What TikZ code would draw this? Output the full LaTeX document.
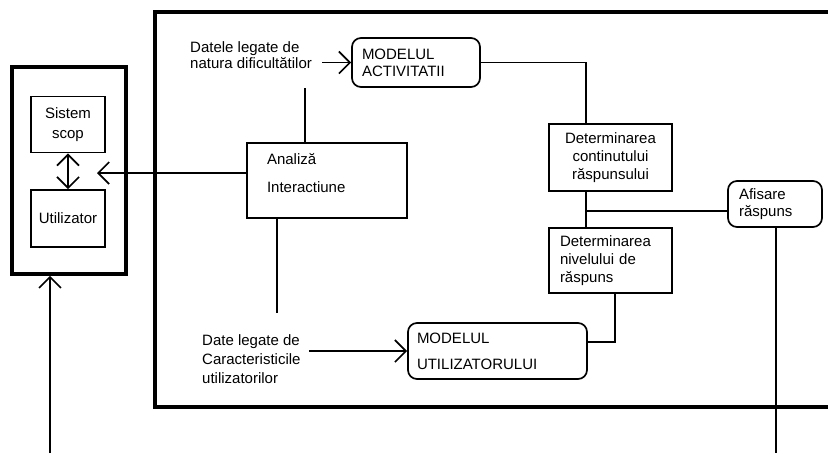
\documentclass[tikz,border=0pt]{standalone}
\usepackage{fontspec}
\setmainfont{Liberation Sans}
\usetikzlibrary{arrows.meta}

\begin{document}
\begin{tikzpicture}[x=1pt, y=-1pt, >={Straight Barb[length=11pt,width=22pt]},
  font=\fontsize{15}{16}\selectfont,
  link/.style={line width=1.7pt},
  frame/.style={draw, line width=3.5pt},
  box/.style={draw, line width=1.7pt, inner sep=2pt},
  rbox/.style={box, rounded corners=9pt},
  txt/.style={inner sep=0pt, align=left, anchor=west}]
  \useasboundingbox (0,0) rectangle (828,453);
  % outer frames
  \draw[frame] (840,12) -| (155,407) -- (840,407);
  \node[frame, minimum width=114pt, minimum height=207pt] (user) at (69,170.5) {};
  \node[box, minimum width=74pt, minimum height=56pt, align=center] (sistem) at (68,124.5) {Sistem\\[4pt]scop};
  \node[box, minimum width=74pt, minimum height=57pt] (utilizator) at (68,218.5) {Utilizator\\[6pt]\mbox{}};
  % boxes
  \node[box, minimum width=160pt, minimum height=75pt, text width=120pt, align=left] (analiza) at (327,180.5) {Analiză\\[12pt]Interactiune\\\mbox{}};
  \node[rbox, minimum width=128pt, minimum height=49pt, text width=108pt, align=left] (modact) at (416,62.5) {MODELUL\\[1pt]ACTIVITATII};
  \node[box, minimum width=123pt, minimum height=67pt, align=center] (detcont) at (610.5,157.5) {Determinarea\\[2pt]continutului\\[2pt]răspunsului};
  \node[rbox, minimum width=94pt, minimum height=46pt, text width=72pt, align=left] (afis) at (775,204) {Afisare\\[1pt]răspuns};
  \node[box, minimum width=123pt, minimum height=65pt, text width=101pt, align=left] (detniv) at (610.5,260.5) {Determinarea\\[2pt]nivelului de\\[2pt]răspuns};
  \node[rbox, minimum width=179pt, minimum height=56pt, text width=161pt, align=left] (modutil) at (497.5,351) {MODELUL\\[10pt]UTILIZATORULUI};
  % data labels
  \node[txt] (datanat) at (190,55) {Datele legate de\\natura dificultătilor};
  \node[txt] (datcar) at (202,359) {Date legate de\\[3pt]Caracteristicile\\[3pt]utilizatorilor};
  % free ends
  \coordinate (nat) at (305,88);
  \coordinate (car) at (277,313);
  \coordinate (tip) at (97,173);
  \coordinate (entry) at (50,453);
  \coordinate (exit) at (776,453);
  \coordinate (junc) at ([xshift=38pt,yshift=-19pt]detcont.south west);
  % connectors
  \draw[->, link] ([xshift=10pt]datanat.east |- modact.west) -- (modact.west);
  \draw[->, link] ([xshift=8pt]datcar.east |- modutil.west) -- (modutil.west);
  \draw[link] (nat) -- (nat |- analiza.north);
  \draw[link] (analiza.south -| car) -- (car);
  \draw[->, link] (analiza.west |- tip) -- (tip);
  \draw[<->, link] (sistem.south) -- (utilizator.north);
  \draw[->, link] (entry) -- (entry |- user.south);
  \draw[link] (modact.east) -| ([xshift=38pt]detcont.north west);
  \draw[link] ([xshift=38pt]detcont.south west) -- ([xshift=38pt]detniv.north west);
  \draw[link] (junc) -- (junc -| afis.west);
  \draw[link] (afis.south -| exit) -- (exit);
  \draw[link] ([xshift=67pt]detniv.south west) |- ([yshift=9pt]modutil.east);
\end{tikzpicture}
\end{document}
